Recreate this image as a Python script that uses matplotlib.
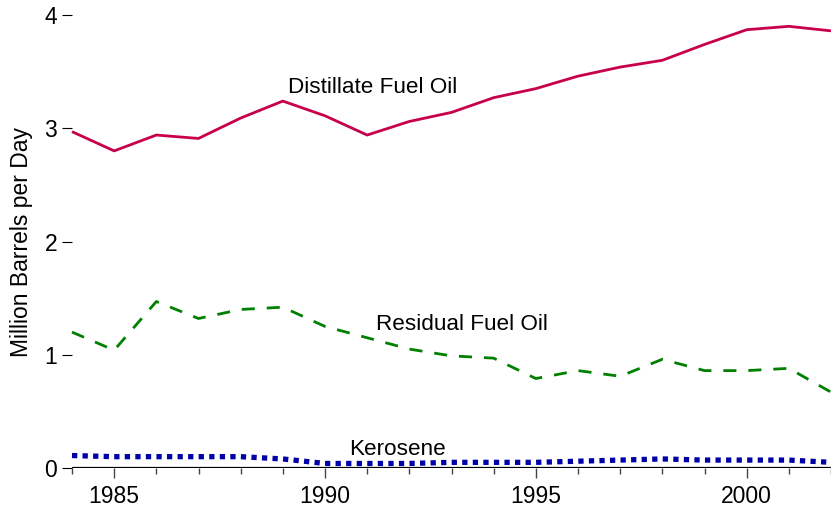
import matplotlib
matplotlib.use("Agg")
import matplotlib.pyplot as plt
from matplotlib.ticker import MultipleLocator

plt.rcParams['font.family'] = ['Liberation Sans', 'DejaVu Sans']

years = list(range(1984, 2003))
distillate = [2.97, 2.80, 2.94, 2.91, 3.09, 3.24, 3.11, 2.94, 3.06, 3.14,
              3.27, 3.35, 3.46, 3.54, 3.60, 3.74, 3.87, 3.90, 3.86]
residual = [1.20, 1.04, 1.47, 1.32, 1.40, 1.42, 1.25, 1.15, 1.05, 0.99,
            0.97, 0.79, 0.86, 0.81, 0.96, 0.86, 0.86, 0.88, 0.67]
kerosene = [0.11, 0.10, 0.10, 0.10, 0.10, 0.08, 0.04, 0.04, 0.04, 0.05,
            0.05, 0.05, 0.06, 0.07, 0.08, 0.07, 0.07, 0.07, 0.05]
series_labels = ["Distillate Fuel Oil", "Residual Fuel Oil", "Kerosene"]
yticks = [0, 1, 2, 3, 4]
xticks = [1985, 1990, 1995, 2000]

fig = plt.figure(figsize=(8.31, 5.11), dpi=100)
ax = fig.add_axes([72/831, 1-468/511, 1-72/831, (468-15)/511])

ax.plot(years, distillate, color='#C8004B', lw=2.0, solid_capstyle='butt', clip_on=False)
ax.plot(years, residual, color='#008000', lw=2.0, dashes=(4.7, 4.3), clip_on=False)
ax.plot(years, kerosene, color='#0000A8', lw=3.8, dashes=(1.0, 1.0), clip_on=False)
ax.axhline(0, color='black', lw=1.6, zorder=5)

ax.set_xlim(1984, 2002)
ax.set_ylim(0, 4)
for s in ax.spines.values():
    s.set_visible(False)

ax.set_yticks(yticks)
ax.set_yticklabels([str(t) for t in yticks])
ax.set_xticks(xticks)
ax.set_xticklabels([str(t) for t in xticks])
ax.xaxis.set_minor_locator(MultipleLocator(1))
ax.tick_params(axis='y', length=7.2, width=0.8, color='black', labelsize=16.5, pad=3.6)
ax.tick_params(axis='x', which='major', length=7.5, width=1.0, color='#444444', labelsize=16.5, pad=5)
ax.tick_params(axis='x', which='minor', length=4.3, width=1.0, color='#444444')
ax.set_ylabel("Million Barrels per Day", fontsize=16.5, labelpad=8)

ax.text(1989.12, 3.31, series_labels[0], fontsize=16.2, va='baseline', ha='left')
ax.text(1991.21, 1.218, series_labels[1], fontsize=16.2, va='baseline', ha='left')
ax.text(1990.57, 0.115, series_labels[2], fontsize=16.2, va='baseline', ha='left')

fig.savefig("out.png", dpi=100)
